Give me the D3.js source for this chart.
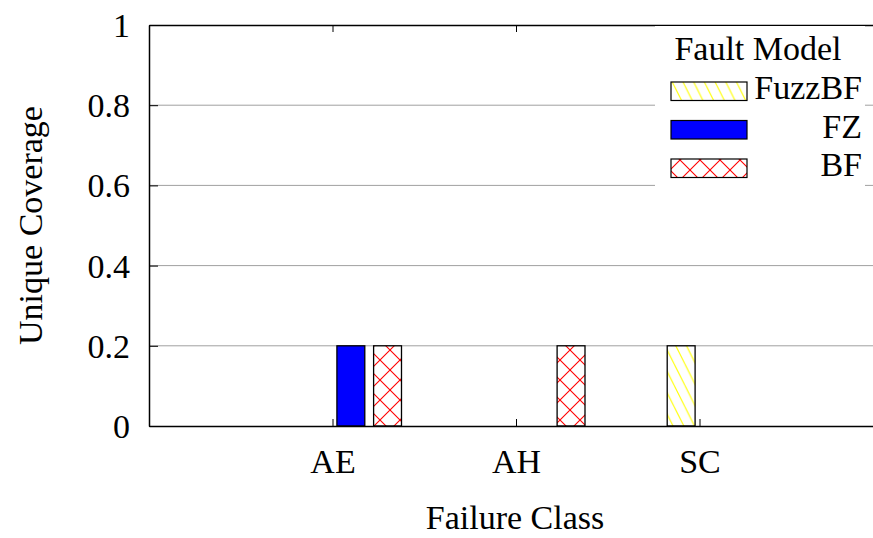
<!DOCTYPE html>
<html>
<head>
<meta charset="utf-8">
<script src="https://cdn.jsdelivr.net/npm/d3@7"></script>
<style>
  html, body { margin: 0; padding: 0; background: #fff; }
  svg { display: block; }
  text { font-family: "Liberation Serif", "Times New Roman", serif; fill: #000; }
</style>
</head>
<body>
<svg id="chart" width="873" height="538"></svg>
<script>
// Failure classes on the x axis
const categories = ["AE", "AH", "SC"];
// Fault models (legend order)
const seriesNames = ["FuzzBF", "FZ", "BF"];
// Unique coverage per fault model, one value per failure class
const fuzzbfValues = [0, 0, 0.2];
const fzValues = [0.2, 0, 0];
const bfValues = [0.2, 0.2, 0];
// Y tick values and labels
const yTicks = [0, 0.2, 0.4, 0.6, 0.8, 1];
const yTickLabels = ["0", "0.2", "0.4", "0.6", "0.8", "1"];

const seriesValues = [fuzzbfValues, fzValues, bfValues];

const W = 873, H = 538;
const FS = 34;
const plot = { left: 149, top: 25, right: 883, bottom: 426 };

const svg = d3.select("#chart");

// Fill patterns, anchored to the page
const defs = svg.append("defs");
const hatch = defs.append("pattern")
  .attr("id", "hatch-yellow")
  .attr("patternUnits", "userSpaceOnUse")
  .attr("width", 10.7).attr("height", 21.4);
hatch.append("rect").attr("width", 10.7).attr("height", 21.4).attr("fill", "#fff");
hatch.append("path")
  .attr("d", "M0,0 L10.7,21.4 M-10.7,0 L0,21.4 M10.7,0 L21.4,21.4")
  .attr("stroke", "#ffff00").attr("stroke-width", 1.1).attr("fill", "none");

const cross = defs.append("pattern")
  .attr("id", "cross-red")
  .attr("patternUnits", "userSpaceOnUse")
  .attr("width", 20).attr("height", 20);
cross.append("rect").attr("width", 20).attr("height", 20).attr("fill", "#fff");
cross.append("path")
  .attr("d", "M0,0 L20,20 M20,0 L0,20 M-10,10 L0,20 M10,-10 L20,0 M10,30 L30,10")
  .attr("stroke", "#ff0000").attr("stroke-width", 1.1).attr("fill", "none");

const fills = ["url(#hatch-yellow)", "#0000ff", "url(#cross-red)"];

// Scales: x in bar-slot units (5 slots per class), y in coverage
const slotsPerClass = 5;
const x = d3.scaleLinear().domain([-5, 15]).range([plot.left, plot.right]);
const y = d3.scaleLinear().domain([0, 1]).range([plot.bottom, plot.top]);
const barWidth = 0.76;
const offset = j => j - 0.5;

const g = svg.append("g");

// Horizontal grid lines
g.append("g").selectAll("line")
  .data(yTicks.filter(t => t > 0 && t < 1))
  .join("line")
  .attr("x1", plot.left).attr("x2", W)
  .attr("y1", d => y(d)).attr("y2", d => y(d))
  .attr("stroke", "#a0a0a0").attr("stroke-width", 1);

// Bars
seriesValues.forEach((vals, j) => {
  g.append("g").selectAll("rect")
    .data(vals.map((v, i) => ({ v, i })))
    .join("rect")
    .attr("x", d => x(d.i * slotsPerClass + offset(j)) - (x(barWidth) - x(0)) / 2)
    .attr("width", x(barWidth) - x(0))
    .attr("y", d => y(d.v))
    .attr("height", d => y(0) - y(d.v))
    .attr("fill", fills[j])
    .attr("stroke", "#000").attr("stroke-width", 1.3)
    .attr("display", d => d.v > 0 ? null : "none");
});

// Axes
const yAxis = d3.axisLeft(y).tickValues(yTicks)
  .tickFormat((d, i) => yTickLabels[i]).tickSizeInner(-9).tickSizeOuter(0).tickPadding(19);
const yg = g.append("g").attr("transform", `translate(${plot.left},0)`).call(yAxis);
yg.select(".domain").attr("stroke", "#000").attr("stroke-width", 1.5);
yg.selectAll(".tick line").attr("stroke", "#000");
yg.selectAll("text").attr("font-size", FS).attr("font-family", "Liberation Serif")
  .attr("dy", "0.34em");

const xTickPos = categories.map((c, i) => i * slotsPerClass);
const xAxis = d3.axisBottom(x).tickValues(xTickPos)
  .tickFormat((d, i) => categories[i]).tickSizeInner(-7).tickSizeOuter(0).tickPadding(23);
const xg = g.append("g").attr("transform", `translate(0,${plot.bottom})`).call(xAxis);
xg.select(".domain").attr("stroke", "#000").attr("stroke-width", 1.5);
xg.selectAll(".tick line").attr("stroke", "#000");
xg.selectAll("text").attr("font-size", FS).attr("font-family", "Liberation Serif");

// Top border with mirrored ticks
const xTop = d3.axisTop(x).tickValues(xTickPos).tickFormat("").tickSizeInner(-7).tickSizeOuter(0);
const xtg = g.append("g").attr("transform", `translate(0,${plot.top})`).call(xTop);
xtg.select(".domain").attr("stroke", "#000").attr("stroke-width", 1.5);
xtg.selectAll(".tick line").attr("stroke", "#000");

// Axis titles
svg.append("text")
  .attr("transform", `translate(42,${(plot.top + plot.bottom) / 2}) rotate(-90)`)
  .attr("text-anchor", "middle").attr("font-size", FS)
  .text("Unique Coverage");
svg.append("text")
  .attr("x", 515).attr("y", 529)
  .attr("text-anchor", "middle").attr("font-size", FS)
  .text("Failure Class");

// Legend
const legend = svg.append("g");
legend.append("rect")
  .attr("x", 655).attr("y", 26).attr("width", 210).attr("height", 164)
  .attr("fill", "#fff");
legend.append("text")
  .attr("x", 758).attr("y", 60).attr("text-anchor", "middle").attr("font-size", FS)
  .text("Fault Model");
const rowY = [82, 120.5, 159];
seriesNames.forEach((name, j) => {
  legend.append("rect")
    .attr("x", 671).attr("y", rowY[j]).attr("width", 76).attr("height", 18.5)
    .attr("fill", fills[j]).attr("stroke", "#000").attr("stroke-width", 1.2);
  legend.append("text")
    .attr("x", 862).attr("y", rowY[j] + 17).attr("text-anchor", "end").attr("font-size", FS)
    .text(name);
});
</script>
</body>
</html>
